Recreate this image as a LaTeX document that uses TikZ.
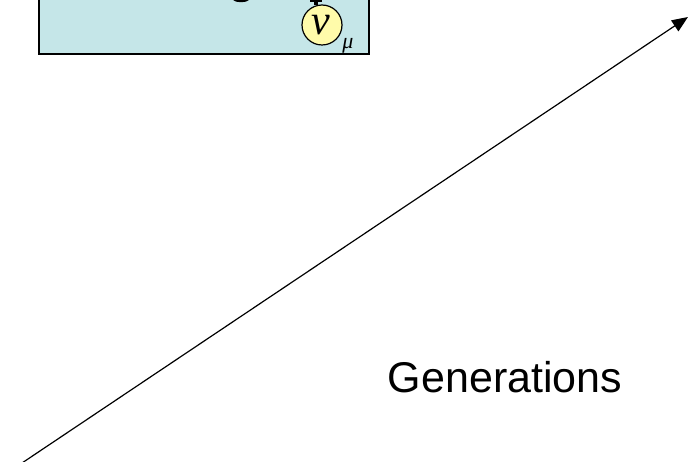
\documentclass[tikz,border=0pt]{standalone}
\usepackage{fontspec}
\setmainfont{Liberation Sans}
\newfontfamily\timesfont{Liberation Serif}
\usetikzlibrary{arrows.meta,shapes.geometric}
\definecolor{boxblue}{HTML}{C5E6E8}
\definecolor{nuyellow}{HTML}{FFFBAA}
\tikzset{
  partbox/.style={draw=black, line width=1.8pt, fill=boxblue},
  nububble/.style={draw=black, line width=1.2pt, fill=nuyellow, ellipse, minimum width=40pt, minimum height=40pt, inner sep=0pt},
  axisarrow/.style={line width=1.2pt, -{Triangle[length=16pt,width=13pt]}},
  axislabel/.style={font=\fontsize{43}{50}\selectfont, anchor=center}
}
\begin{document}
\begin{tikzpicture}[x=1pt,y=-1pt]
  \useasboundingbox (0,0) rectangle (697,462);
  % particle box, top part outside the page
  \begin{scope}
    \clip (0,0) rectangle (697,462);
    \draw[partbox] (39,-30) rectangle (369,54);
    % lower ends of glyphs from the row above
    \fill (233,0) .. controls (236,3) and (246,3) .. (249,0) -- cycle;
    \fill (310,0) rectangle (322,1.6);
    \fill (314,0) rectangle (318,5);
  \end{scope}
  % muon neutrino
  \node[nububble] (nu) at (322,25) {};
  \node[font=\timesfont\itshape\fontsize{42}{46}\selectfont, inner sep=1pt] (nusym) at (321,25) {ν};
  \node[font=\timesfont\itshape\fontsize{22}{26}\selectfont, inner sep=0pt] (musym) at (348,46) {μ};
  % generations axis
  \coordinate (axstart) at (22,463);
  \coordinate (axend) at (688,17);
  \draw[axisarrow] (axstart) -- (axend);
  \node[axislabel] (gen) at (505,377) {Generations};
\end{tikzpicture}
\end{document}
